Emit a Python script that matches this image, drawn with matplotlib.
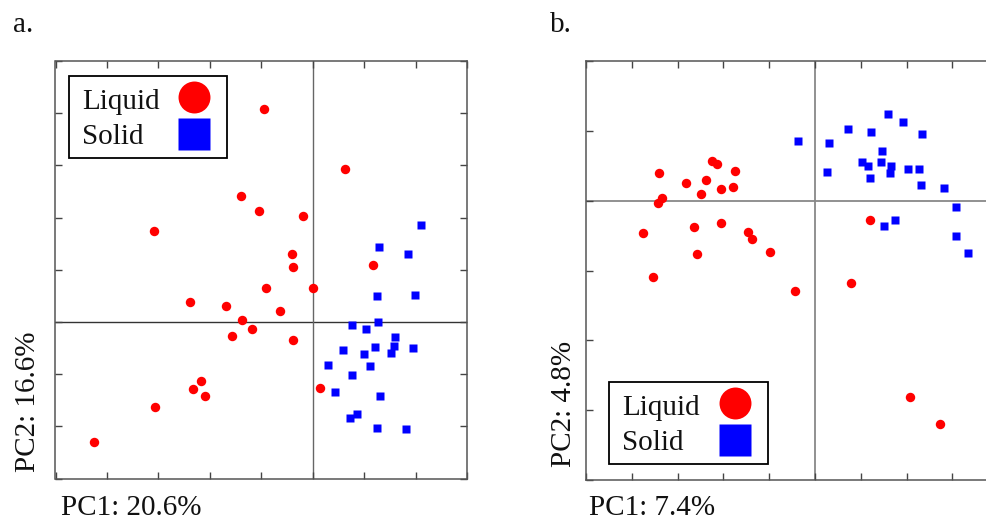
#!/usr/bin/env python3
# -*- coding: utf-8 -*-
"""
PCA score plots for liquid vs. solid samples, two panels (a, b).
Writes out.png.
"""

import matplotlib
matplotlib.use("Agg")
import matplotlib.pyplot as plt
from matplotlib.lines import Line2D
from matplotlib.patches import Rectangle
from matplotlib.transforms import Affine2D

plt.rcParams["font.family"] = ["Liberation Serif", "DejaVu Serif"]

# ---- panel a: PC1 20.6% / PC2 16.6% ----
a_liquid_x = [-0.95, 0.63, -1.39, -1.04, -0.19, -3.09, -0.41, -0.39, 1.17, -0.92, 0.00, -2.39,
              -1.69, -0.64, -1.37, -1.19, -1.57, -0.39, -2.18, -2.33, -2.10, -3.07, 0.14, -4.26]
a_liquid_y = [4.08, 2.94, 2.42, 2.13, 2.03, 1.75, 1.31, 1.06, 1.10, 0.65, 0.66, 0.38,
              0.31, 0.22, 0.04, -0.14, -0.26, -0.34, -1.13, -1.28, -1.42, -1.63, -1.26, -2.30]
a_solid_x = [2.10, 1.29, 1.84, 1.24, 1.98, 1.26, 0.75, 1.03, 1.60, 1.58, 1.21, 0.58,
             0.99, 1.51, 1.95, 0.30, 1.11, 0.75, 0.43, 1.31, 0.85, 0.71, 1.25, 1.80]
a_solid_y = [1.86, 1.43, 1.31, 0.49, 0.51, 0.01, -0.06, -0.14, -0.28, -0.45, -0.47, -0.54,
             -0.61, -0.60, -0.50, -0.82, -0.84, -1.02, -1.33, -1.41, -1.77, -1.84, -2.02, -2.05]

# ---- panel b: PC1 7.4% / PC2 4.8% ----
b_liquid_x = [-3.41, -3.33, -3.42, -3.75, -3.53, -2.81, -2.39, -2.24, -2.15, -2.48, -2.05, -1.80,
              -1.74, -2.65, -2.05, -1.47, -1.38, -2.58, -0.99, -0.44, 0.78, 1.21, 2.08, 2.74]
b_liquid_y = [0.40, 0.04, -0.03, -0.47, -1.09, 0.26, 0.29, 0.57, 0.53, 0.09, 0.16, 0.19,
              0.42, -0.37, -0.32, -0.45, -0.55, -0.76, -0.74, -1.30, -1.18, -0.28, -2.81, -3.20]
b_solid_x = [-0.37, 0.31, 0.26, 0.73, 1.23, 1.59, 1.92, 2.34, 1.47, 1.03, 1.16, 1.45,
             1.66, 1.64, 1.20, 2.02, 2.26, 2.32, 2.82, 3.07, 3.07, 3.35, 1.74, 1.51]
b_solid_y = [0.85, 0.83, 0.41, 1.02, 0.98, 1.24, 1.13, 0.96, 0.71, 0.55, 0.49, 0.55,
             0.50, 0.40, 0.33, 0.46, 0.45, 0.23, 0.18, -0.09, -0.51, -0.75, -0.27, -0.36]

groups = ["Liquid", "Solid"]

W, H = 987, 531
fig = plt.figure(figsize=(W / 100, H / 100), dpi=100)

# pixel coords measured from the top-left corner of the canvas
PX = Affine2D().scale(1 / W, -1 / H).translate(0, 1) + fig.transFigure


def px_rect(left, top, right, bottom):
    # pixel box -> figure fraction [l, b, w, h]
    return [left / W, 1 - bottom / H, (right - left) / W, (bottom - top) / H]


def setup_axes(ax, xlim, ylim, hcol, vcol, lw):
    ax.set_xlim(*xlim)
    ax.set_ylim(*ylim)
    ax.set_xticks(range(xlim[0], xlim[1] + 1))
    ax.set_yticks(range(ylim[0], ylim[1] + 1))
    ax.set_xticklabels([])
    ax.set_yticklabels([])
    ax.tick_params(direction="in", length=5, width=1.0, color="#444",
                   top=True, right=True)
    for s in ax.spines.values():
        s.set_color("#555")
        s.set_linewidth(1.1)
    ax.axhline(0, color=hcol, lw=lw, zorder=1)
    ax.axvline(0, color=vcol, lw=lw, zorder=1)


def add_points(ax, lx, ly, sx, sy):
    ax.plot(lx, ly, "o", color="red", ms=6.8, mec="none", zorder=3)
    ax.plot(sx, sy, "s", color="blue", ms=6.4, mec="none", zorder=3)


def add_legend(left, top, right, bottom):
    # boxed legend: label on the left, big marker on the right
    fig.add_artist(Rectangle((left, top), right - left, bottom - top, transform=PX,
                             facecolor="white", edgecolor="black", lw=1.3, zorder=5))
    mx = right - 33.5
    rows = [(top + 21, top + 33.5, "o", "red", 23),
            (top + 58.5, top + 68.5, "s", "blue", 23)]
    for label, (cy, base, mk, col, ms) in zip(groups, rows):
        fig.text(left + 13, base, label, transform=PX, fontsize=21, color="#111",
                 va="baseline", zorder=6)
        fig.add_artist(Line2D([mx], [cy], transform=PX, ls="none", marker=mk,
                              color=col, ms=ms, mec="none", zorder=6))


# panel a
ax_a = fig.add_axes(px_rect(55.5, 61, 467.5, 478.7))
setup_axes(ax_a, (-5, 3), (-3, 5), "#333", "#666", 1.0)
add_points(ax_a, a_liquid_x, a_liquid_y, a_solid_x, a_solid_y)
add_legend(69.3, 75.7, 227.3, 157.7)

# panel b (runs past the right edge of the figure)
ax_b = fig.add_axes(px_rect(586, 61, 586 + 10 * 45.8, 480))
setup_axes(ax_b, (-5, 5), (-4, 2), "#888", "#888", 1.3)
add_points(ax_b, b_liquid_x, b_liquid_y, b_solid_x, b_solid_y)
add_legend(609.3, 381.7, 768, 464.3)

# panel letters and axis labels
txt = dict(fontsize=21, color="#111")
fig.text(13 / W, 1 - 32 / H, "a.", va="baseline", **txt)
fig.text(550 / W, 1 - 32 / H, "b.", va="baseline", **txt)
fig.text(61 / W, 1 - 515 / H, "PC1: 20.6%", va="baseline", **txt)
fig.text(589 / W, 1 - 515 / H, "PC1: 7.4%", va="baseline", **txt)
fig.text(15 / W, 1 - 472 / H, "PC2: 16.6%", rotation=90, ha="left", va="bottom", **txt)
fig.text(551 / W, 1 - 467 / H, "PC2: 4.8%", rotation=90, ha="left", va="bottom", **txt)

fig.savefig("out.png", dpi=100)
